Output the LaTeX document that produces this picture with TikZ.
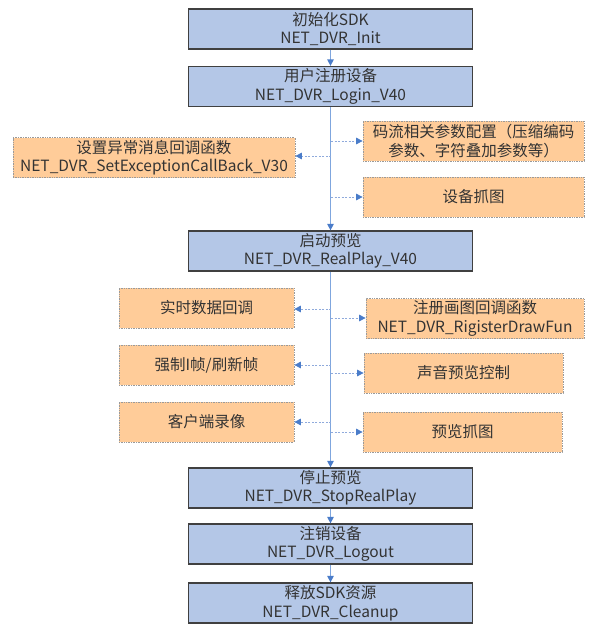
\documentclass[tikz,border=0pt]{standalone}
\usepackage{fontspec}
\setmainfont{Noto Sans CJK SC}
\usetikzlibrary{arrows.meta}
\definecolor{mainfill}{HTML}{B4C7E7}
\definecolor{mainborder}{HTML}{404040}
\definecolor{sidefill}{HTML}{FFCC99}
\definecolor{sideborder}{HTML}{9A9A9A}
\definecolor{linkblue}{HTML}{7FA6DE}
\definecolor{dashblue}{HTML}{8FAADC}
\definecolor{tipblue}{HTML}{4A7CC9}
\definecolor{txt}{HTML}{333333}
\tikzset{
  base/.style={inner sep=0pt, align=center, text=txt,
    font=\fontsize{15.5pt}{18.5pt}\selectfont},
  mainbox/.style={base, draw=mainborder, line width=1.3pt, fill=mainfill,
    minimum width=284pt, minimum height=40pt},
  sidebox/.style={base, draw=sideborder, line width=0.7pt, densely dotted, fill=sidefill,
    minimum height=40pt},
  mainarrow/.style={draw=linkblue, line width=1.3pt,
    -{Triangle[length=6.5pt,width=6.5pt,fill=tipblue,color=tipblue]}},
  sidearrow/.style={draw=dashblue, line width=0.8pt, dash pattern=on 2pt off 1.5pt,
    -{Triangle[length=6.5pt,width=6.5pt,fill=tipblue,color=tipblue]}},
}
\begin{document}
\begin{tikzpicture}[x=1pt,y=-1pt]
\useasboundingbox (0,0) rectangle (604,632);
% main column
\node[mainbox] (init) at (330.5,29) {初始化SDK\\NET\_DVR\_Init};
\node[mainbox] (login) at (330.5,86.5) {用户注册设备\\NET\_DVR\_Login\_V40};
\node[mainbox] (play) at (330.5,251) {启动预览\\NET\_DVR\_RealPlay\_V40};
\node[mainbox] (stop) at (330.5,488) {停止预览\\NET\_DVR\_StopRealPlay};
\node[mainbox] (logout) at (330.5,544) {注销设备\\NET\_DVR\_Logout};
\node[mainbox] (clean) at (330.5,603) {释放SDK资源\\NET\_DVR\_Cleanup};
% side boxes after login
\node[sidebox, minimum width=282pt] (exc) at (154,157.5) {设置异常消息回调函数\\NET\_DVR\_SetExceptionCallBack\_V30};
\node[sidebox, minimum width=221pt] (param) at (473.5,141) {码流相关参数配置（压缩编码\\参数、字符叠加参数等）};
\node[sidebox, minimum width=221pt] (cap) at (473.5,197) {设备抓图};
% side boxes after realplay
\node[sidebox, minimum width=175pt] (data) at (206.5,308) {实时数据回调};
\node[sidebox, minimum width=175pt] (iframe) at (206.5,365) {强制I帧/刷新帧};
\node[sidebox, minimum width=175pt] (rec) at (206.5,422) {客户端录像};
\node[sidebox, minimum width=218pt] (draw) at (475,318.5) {注册画图回调函数\\NET\_DVR\_RigisterDrawFun};
\node[sidebox, minimum width=199pt] (audio) at (463.5,373) {声音预览控制};
\node[sidebox, minimum width=199pt] (pcap) at (462.5,432) {预览抓图};
% main connectors
\draw[mainarrow] (init) -- (login);
\draw[mainarrow] (login) -- (play);
\draw[mainarrow] (play) -- (stop);
\draw[mainarrow] (stop) -- (logout);
\draw[mainarrow] (logout) -- (clean);
% branch points
\coordinate (b1) at (331,156);
\coordinate (b2) at (331,141);
\coordinate (b3) at (331,197);
\coordinate (b4) at (331,309);
\coordinate (b5) at (331,365);
\coordinate (b6) at (331,422);
\coordinate (b7) at (331,318);
\coordinate (b8) at (331,373);
\coordinate (b9) at (331,432);
\draw[sidearrow] (b1) -- (b1 -| exc.east);
\draw[sidearrow] (b2) -- (b2 -| param.west);
\draw[sidearrow] (b3) -- (b3 -| cap.west);
\draw[sidearrow] (b4) -- (b4 -| data.east);
\draw[sidearrow] (b5) -- (b5 -| iframe.east);
\draw[sidearrow] (b6) -- (b6 -| rec.east);
\draw[sidearrow] (b7) -- (b7 -| draw.west);
\draw[sidearrow] (b8) -- (b8 -| audio.west);
\draw[sidearrow] (b9) -- (b9 -| pcap.west);
\end{tikzpicture}
\end{document}
